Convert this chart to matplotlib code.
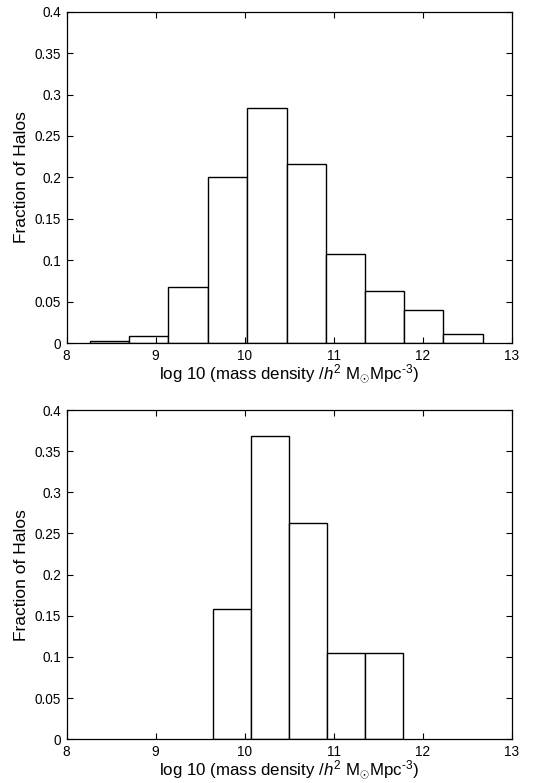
import numpy as np
import matplotlib
matplotlib.use("Agg")
import matplotlib.pyplot as plt

plt.rcParams['font.family'] = ['Liberation Sans', 'DejaVu Sans']
plt.rcParams['mathtext.fontset'] = 'custom'
plt.rcParams['mathtext.rm'] = 'Liberation Sans'
plt.rcParams['mathtext.it'] = 'Liberation Sans:italic'

# bin edges (log10 density) and halo fractions for each sample
top_edges = [8.26, 8.70, 9.14, 9.59, 10.03, 10.47, 10.91, 11.35, 11.79, 12.23, 12.67]
top_frac = [0.002, 0.009, 0.068, 0.200, 0.284, 0.216, 0.107, 0.063, 0.040, 0.011]

bot_edges = [9.645, 10.07, 10.50, 10.92, 11.35, 11.775]
bot_frac = [0.158, 0.368, 0.263, 0.105, 0.105]

xticks = [8, 9, 10, 11, 12, 13]
yticks = [0, 0.05, 0.1, 0.15, 0.2, 0.25, 0.3, 0.35, 0.4]
ytick_labels = ["0", "0.05", "0.1", "0.15", "0.2", "0.25", "0.3", "0.35", "0.4"]

xlabel = r"log 10 (mass density /$h^2$ M$_{\odot}$Mpc$^{\text{-}3}$)"


def draw_hist(ax, edges, frac):
    edges = np.asarray(edges)
    ax.bar(edges[:-1], frac, width=np.diff(edges), align="edge",
           facecolor="white", edgecolor="black", linewidth=1.0)
    ax.set_xlim(8, 13)
    ax.set_ylim(0, 0.4)
    ax.set_xticks(xticks)
    ax.set_xticklabels([str(t) for t in xticks])
    ax.set_yticks(yticks)
    ax.set_yticklabels(ytick_labels)
    ax.tick_params(direction="in", top=True, right=True, length=4,
                   width=0.8, labelsize=9.8, pad=4)
    for s in ax.spines.values():
        s.set_linewidth(0.9)
    ax.set_xlabel(xlabel, fontsize=12.2, labelpad=0)
    ax.set_ylabel("Fraction of Halos", fontsize=12.5, labelpad=4)


fig = plt.figure(figsize=(5.39, 7.83), dpi=100)
ax1 = fig.add_axes([0.1234, 0.5619, 0.8266, 0.4231])
ax2 = fig.add_axes([0.1234, 0.0560, 0.8266, 0.4203])

draw_hist(ax1, top_edges, top_frac)
draw_hist(ax2, bot_edges, bot_frac)

fig.savefig("out.png", dpi=100)
